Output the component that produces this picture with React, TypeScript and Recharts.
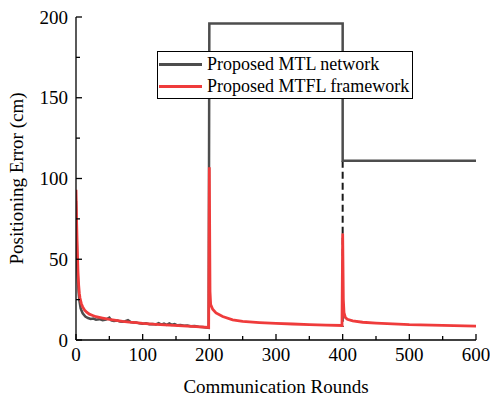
import { Legend, Line, LineChart, XAxis, YAxis } from 'recharts'

// Proposed MTL network (grey)
const mtlRounds = [
  0, 1, 2, 3, 4, 5, 7, 10, 14, 18, 22, 26, 30, 35, 40, 45, 50, 53, 57, 62, 66, 70, 74, 78,
  82, 86, 90, 95, 100, 105, 110, 115, 120, 124, 128, 132, 136, 140, 144, 148, 152, 157, 162,
  167, 172, 178, 184, 190, 195, 199, 200, 400, 400, 600,
]
const mtlError = [
  86, 64, 47, 36, 29, 24.5, 19.5, 16.5, 14.5, 13.6, 13.0, 13.3, 12.6, 12.9, 12.3, 12.6, 13.8,
  12.2, 11.8, 12.1, 11.5, 11.3, 11.6, 12.3, 11.1, 10.8, 10.9, 10.3, 10.1, 10.3, 9.8, 9.9, 9.6,
  10.4, 9.5, 10.2, 9.4, 10.3, 9.4, 9.9, 9.1, 9.3, 8.8, 9.0, 8.5, 8.6, 8.2, 8.0, 7.8, 7.6, 196,
  196, 111, 111,
]

// Proposed MTFL framework (red)
const mtflRounds = [
  0, 1, 2, 3, 4, 5, 6, 8, 10, 13, 16, 20, 25, 30, 40, 50, 60, 70, 80, 90, 100, 120, 140, 160,
  180, 199, 200, 201, 202, 205, 210, 220, 235, 250, 275, 300, 325, 350, 375, 399, 400, 401,
  402, 404, 407, 415, 430, 450, 475, 500, 550, 600,
]
const mtflError = [
  93, 72, 55, 42, 34, 29, 26, 22.5, 20.5, 18.5, 17.2, 16, 15.2, 14.4, 13.6, 12.8, 12.2, 11.6,
  11.1, 10.7, 10.3, 9.7, 9.2, 8.7, 8.3, 7.8, 107, 30, 22, 19, 16.8, 14.5, 12.5, 11.5, 10.8,
  10.3, 9.9, 9.5, 9.2, 9.0, 66, 25, 17, 14, 12.8, 11.8, 11, 10.5, 10, 9.5, 9, 8.6,
]

// dashed drop of the MTL curve at round 400
const dropRounds = [400, 400]
const dropError = [111, 8]

const xTicks = [0, 50, 100, 150, 200, 250, 300, 350, 400, 450, 500, 550, 600]
const yTicks = [0, 25, 50, 75, 100, 125, 150, 175, 200]

const GREY = '#4d4d4d'
const RED = '#ef3b3b'
const SERIF = '"Liberation Serif", "Times New Roman", serif'

// force serif on the svg texts too
const css = `.chart-box, .chart-box svg, .chart-box svg text, .chart-box tspan {
  font-family: "Liberation Serif", "Times New Roman", serif !important;
}`

const toPoints = (xs: number[], ys: number[]) => xs.map((r, i) => ({ round: r, error: ys[i] }))

const mtlData = toPoints(mtlRounds, mtlError)
const mtflData = toPoints(mtflRounds, mtflError)
const dropData = toPoints(dropRounds, dropError)

function BottomTick(props: any) {
  const { x, y, payload } = props
  const major = payload.value % 100 === 0
  return (
    <g>
      <line x1={x} y1={y} x2={x} y2={y - (major ? 6 : 4)} stroke="#000" strokeWidth={1.3} />
      {major && (
        <text x={x} y={y + 21} textAnchor="middle" fontSize={19} fontFamily={SERIF} fill="#000">
          {payload.value}
        </text>
      )}
    </g>
  )
}

function TopTick(props: any) {
  const { x, y, payload } = props
  const major = payload.value % 100 === 0
  return <line x1={x} y1={y} x2={x} y2={y + (major ? 6 : 4)} stroke="#000" strokeWidth={1.3} />
}

function LeftTick(props: any) {
  const { x, y, payload } = props
  const major = payload.value % 50 === 0
  return (
    <g>
      <line x1={x} y1={y} x2={x + (major ? 6 : 4)} y2={y} stroke="#000" strokeWidth={1.3} />
      {major && (
        <text
          x={x - 8}
          y={y}
          dy="0.35em"
          textAnchor="end"
          fontSize={19}
          fontFamily={SERIF}
          fill="#000"
        >
          {payload.value}
        </text>
      )}
    </g>
  )
}

function RightTick(props: any) {
  const { x, y, payload } = props
  const major = payload.value % 50 === 0
  return <line x1={x} y1={y} x2={x - (major ? 6 : 4)} y2={y} stroke="#000" strokeWidth={1.3} />
}

function LegendBox() {
  const rows = [
    { name: 'Proposed MTL network', color: GREY },
    { name: 'Proposed MTFL framework', color: RED },
  ]
  return (
    <div
      style={{
        width: 254,
        height: 45,
        border: '1px solid #000',
        background: '#fff',
        fontFamily: SERIF,
        fontSize: 18,
        lineHeight: '22px',
        paddingTop: 1,
        whiteSpace: 'nowrap',
      }}
    >
      {rows.map((r) => (
        <div key={r.name} style={{ display: 'flex', alignItems: 'center', height: 22 }}>
          <span
            style={{
              width: 43,
              height: 3,
              background: r.color,
              marginLeft: 1,
              marginRight: 5,
              flex: 'none',
            }}
          />
          <span>{r.name}</span>
        </div>
      ))}
    </div>
  )
}

export default function App() {
  return (
    <div
      className="chart-box"
      style={{ position: 'absolute', left: 0, top: 0, width: 490, height: 396, background: '#fff' }}
    >
      <style>{css}</style>
      <LineChart width={490} height={396} margin={{ top: 17, right: 14, bottom: 0, left: 0 }}>
        <XAxis
          type="number"
          dataKey="round"
          domain={[0, 600]}
          ticks={xTicks}
          interval={0}
          height={56}
          tickSize={0}
          tickMargin={0}
          tickLine={false}
          tick={<BottomTick />}
          axisLine={{ stroke: '#000', strokeWidth: 1.3 }}
          allowDataOverflow
          label={{
            content: (p: any) => (
              <text
                x={p.viewBox.x + p.viewBox.width / 2}
                y={p.viewBox.y + 53}
                textAnchor="middle"
                fontSize={19}
                fontFamily={SERIF}
                fill="#000"
              >
                Communication Rounds
              </text>
            ),
          }}
        />
        <XAxis
          xAxisId="top"
          orientation="top"
          type="number"
          dataKey="round"
          domain={[0, 600]}
          ticks={xTicks}
          interval={0}
          height={0}
          tickSize={0}
          tickMargin={0}
          tickLine={false}
          tick={<TopTick />}
          axisLine={{ stroke: '#000', strokeWidth: 1.3 }}
          allowDataOverflow
        />
        <YAxis
          type="number"
          domain={[0, 200]}
          ticks={yTicks}
          interval={0}
          width={76}
          tickSize={0}
          tickMargin={0}
          tickLine={false}
          tick={<LeftTick />}
          axisLine={{ stroke: '#000', strokeWidth: 1.3 }}
          allowDataOverflow
          label={{
            content: (p: any) => {
              const cx = p.viewBox.x + 23
              const cy = p.viewBox.y + p.viewBox.height / 2
              return (
                <text
                  x={cx}
                  y={cy}
                  transform={`rotate(-90, ${cx}, ${cy})`}
                  textAnchor="middle"
                  fontSize={19}
                  fontFamily={SERIF}
                  fill="#000"
                >
                  Positioning Error (cm)
                </text>
              )
            },
          }}
        />
        <YAxis
          yAxisId="right"
          orientation="right"
          type="number"
          domain={[0, 200]}
          ticks={yTicks}
          interval={0}
          width={0}
          tickSize={0}
          tickMargin={0}
          tickLine={false}
          tick={<RightTick />}
          axisLine={{ stroke: '#000', strokeWidth: 1.3 }}
          allowDataOverflow
        />
        <Legend
          layout="vertical"
          align="center"
          verticalAlign="middle"
          wrapperStyle={{ left: 157, top: 51, width: 'auto' }}
          content={() => <LegendBox />}
        />
        <Line
          data={dropData}
          dataKey="error"
          type="linear"
          stroke="#1a1a1a"
          strokeWidth={2}
          strokeDasharray="7 4"
          dot={false}
          legendType="none"
          isAnimationActive={false}
        />
        <Line
          data={mtlData}
          dataKey="error"
          name="Proposed MTL network"
          type="linear"
          stroke={GREY}
          strokeWidth={2.5}
          dot={false}
          isAnimationActive={false}
        />
        <Line
          data={mtflData}
          dataKey="error"
          name="Proposed MTFL framework"
          type="linear"
          stroke={RED}
          strokeWidth={2.8}
          dot={false}
          isAnimationActive={false}
        />
      </LineChart>
    </div>
  )
}
